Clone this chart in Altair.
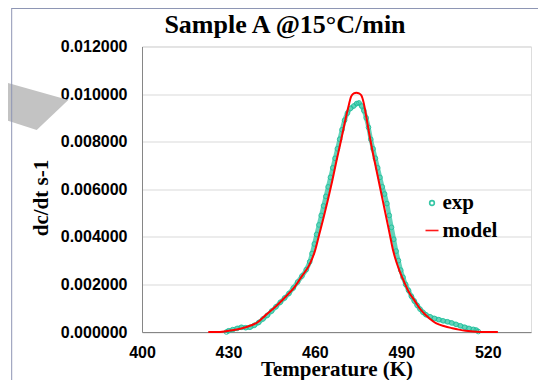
import altair as alt
import pandas as pd

# ---- data ----
model_T = [423, 426, 429, 432, 436, 440, 443, 446.5, 450, 453, 455.5, 458, 460, 461.5, 463, 464.5,
           466.2, 467.5, 468.8, 470.2, 471.5, 472.6, 473.5, 474.4, 475.3, 476.1, 477.0, 477.9, 478.9,
           480.0, 481.2, 482.4, 483.6, 484.8, 486.0, 487.2, 488.4, 489.6, 491.0, 492.5, 494.5, 496.2,
           497.9, 500.0, 502.0, 505.0, 507.7, 510.0, 512.3, 516.0, 520.0, 523.5]
model_v = [0, 0, 0.00003, 0.00008, 0.0002, 0.0004, 0.00072, 0.00108, 0.0015, 0.0019, 0.00235, 0.0028,
           0.0034, 0.0041, 0.0048, 0.00555, 0.00645, 0.0072, 0.0079, 0.0087, 0.0094, 0.0099, 0.01003,
           0.01006, 0.01003, 0.00995, 0.0096, 0.0090, 0.0083, 0.0076, 0.0069, 0.0062, 0.0055, 0.0048,
           0.0041, 0.0034, 0.0029, 0.0025, 0.0021, 0.0017, 0.00134, 0.00102, 0.00078, 0.00055, 0.00037,
           0.00024, 0.00016, 0.0001, 0.00005, 0.00001, 0, 0]

exp_T = [429.3, 430.0, 431.5, 433.0, 434.5, 436.0, 437.5, 439.0, 440.5, 442.0, 443.5, 445.0, 446.5,
         448.0, 449.5, 451.0, 452.5, 454.0, 455.5, 457.0, 458.2, 459.0, 459.8, 460.6, 461.4, 462.2,
         463.0, 463.8, 464.6, 465.4, 466.2, 467.0, 467.8, 468.6, 469.4, 470.3, 471.3, 472.4, 473.5,
         474.5, 475.3, 476.2, 477.0, 477.8, 478.6, 479.4, 480.2, 481.0, 481.8, 482.6, 483.4, 484.2,
         485.0, 485.8, 486.6, 487.4, 488.2, 489.0, 489.8, 490.6, 491.5, 492.5, 493.5, 494.5, 495.5,
         496.5, 497.5, 498.5, 500.0, 501.5, 503.0, 504.5, 506.0, 507.5, 509.0, 510.5, 512.0, 513.5,
         515.0, 516.0, 516.7]
exp_v = [0, 0.00005, 0.0001, 0.00015, 0.0002, 0.00018, 0.0002, 0.00028, 0.0004, 0.00055, 0.0007,
         0.00088, 0.00106, 0.00125, 0.00143, 0.00162, 0.00185, 0.0021, 0.00235, 0.00262, 0.00295,
         0.0033, 0.0037, 0.0041, 0.0045, 0.0049, 0.0053, 0.0057, 0.0061, 0.0065, 0.0069, 0.0073,
         0.0077, 0.0081, 0.0085, 0.0089, 0.0092, 0.0094, 0.0095, 0.0096, 0.00963, 0.0095, 0.0093,
         0.0090, 0.0086, 0.0081, 0.0077, 0.0073, 0.0069, 0.0065, 0.0061, 0.0058, 0.0054, 0.0049,
         0.0044, 0.0039, 0.0034, 0.0030, 0.0026, 0.0023, 0.0020, 0.00175, 0.0015, 0.0013, 0.00112,
         0.00096, 0.00083, 0.00073, 0.00064, 0.00057, 0.00052, 0.00047, 0.00043, 0.00038, 0.00032,
         0.00026, 0.0002, 0.00015, 0.00011, 0.00008, 0.00002]

x_ticks = [400, 430, 460, 490, 520]
y_ticks = [0, 0.002, 0.004, 0.006, 0.008, 0.010, 0.012]
series_names = ["exp", "model"]
series_colors = ["#20c09c", "#ff0000"]
title_text = "Sample A @15°C/min"
x_title = "Temperature (K)"
y_title = "dc/dt s-1"

exp_df = pd.DataFrame({"T": exp_T, "v": exp_v, "series": "exp"})
model_df = pd.DataFrame({"T": model_T, "v": model_v, "series": "model"})

SANS = "Liberation Sans"
SERIF = "Liberation Serif"

x_enc = alt.X("T:Q", scale=alt.Scale(domain=[400, 535], nice=False, zero=False),
              axis=alt.Axis(values=x_ticks, format="d", title=x_title, grid=False, ticks=False,
                            labelPadding=12.5, labelFlush=False, domainColor="#868686",
                            labelFont=SANS, labelFontWeight="bold", labelFontSize=16,
                            labelColor="black", titleFont=SERIF, titleFontSize=21,
                            titleFontWeight="bold", titleColor="black",
                            titleBaseline="alphabetic", titleY=43.5))
y_enc = alt.Y("v:Q", scale=alt.Scale(domain=[0, 0.012], nice=False),
              axis=alt.Axis(values=y_ticks, format=".6f", title=y_title, grid=True,
                            gridColor="#d9d9d9", ticks=False, labelPadding=15,
                            domainColor="#868686", labelFont=SANS, labelFontWeight="bold",
                            labelFontSize=16, labelColor="black", titleFont=SERIF,
                            titleFontSize=21, titleFontWeight="bold", titleColor="black",
                            titleAngle=270, titleAlign="center", titleBaseline="alphabetic",
                            titleX=-94.5, titleY=151))

color_enc = alt.Color("series:N", scale=alt.Scale(domain=series_names, range=series_colors),
                      legend=alt.Legend(title=None, orient="none", legendX=279.5, legendY=146,
                                        labelFont=SERIF, labelFontSize=21, labelFontWeight="bold",
                                        labelColor="black", symbolStrokeWidth=1.6,
                                        rowPadding=5.5, labelOffset=0, padding=0))
shape_enc = alt.Shape("series:N", scale=alt.Scale(domain=series_names, range=["circle", "stroke"]),
                      legend=alt.Legend(title=None))
size_enc = alt.Size("series:N", scale=alt.Scale(domain=series_names, range=[22, 169]),
                    legend=alt.Legend(title=None))

base_dummy = pd.DataFrame({"k": [0]})
title_df = pd.DataFrame({"label": [title_text]})

# decorative background shapes of the slide
decor = alt.Chart(base_dummy).mark_point(
    shape="M-142,34.2 L-73.7,53.5 L-105.3,83.5 L-142,71.8 Z", filled=True, color="#c3c3c3",
    opacity=1, size=4, strokeWidth=0
).encode(x=alt.value(0), y=alt.value(0))
frame_left = alt.Chart(base_dummy).mark_rule(color="#8e96b4", strokeWidth=1).encode(
    x=alt.value(-130.3), y=alt.value(-38.5), y2=alt.value(334))
frame_top = alt.Chart(base_dummy).mark_rule(color="#8e96b4", strokeWidth=1).encode(
    x=alt.value(-130.3), x2=alt.value(400), y=alt.value(-38))

# chart title as a text mark
title_mark = alt.Chart(title_df).mark_text(
    font=SERIF, fontSize=26, fontWeight="bold", color="black", align="center",
    baseline="alphabetic"
).encode(text="label:N", x=alt.value(143), y=alt.value(-13.2))

exp_band = alt.Chart(exp_df).mark_line(color=series_colors[0], strokeWidth=4.5, opacity=0.7,
                                       interpolate="monotone").encode(x=x_enc, y=y_enc)
exp_pts = alt.Chart(exp_df).mark_point(filled=False, strokeWidth=1, opacity=0.9).encode(
    x=x_enc, y=y_enc, color=color_enc, shape=shape_enc, size=size_enc)
model_line = alt.Chart(model_df).mark_line(strokeWidth=2, interpolate="monotone").encode(
    x=x_enc, y=y_enc, color=color_enc)

chart = alt.layer(decor, frame_left, frame_top, title_mark, exp_band, exp_pts, model_line).properties(
    width=389, height=285.5,
    padding={"left": 134, "top": 38.5, "right": 7, "bottom": 48},
    autosize=alt.AutoSizeParams(type="none"),
).configure_view(stroke="#aab0c8", strokeWidth=1).configure(background="white")

chart.save("out.html", embed_options={"renderer": "svg", "actions": False})
